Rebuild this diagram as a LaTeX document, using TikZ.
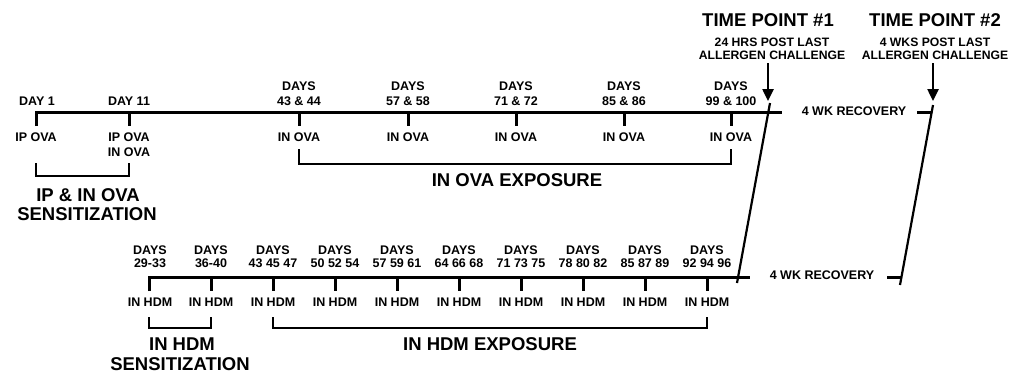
\documentclass[tikz,border=0pt]{standalone}
\usepackage{fontspec}
\setmainfont{Liberation Sans}
\usetikzlibrary{arrows.meta}
\begin{document}
\begin{tikzpicture}[x=1pt,y=-1pt,
  sm/.style={font=\bfseries\fontsize{12.5}{14}\selectfont, anchor=base, inner sep=0pt},
  mid/.style={font=\bfseries\fontsize{12.2}{14}\selectfont, anchor=base, inner sep=0pt},
  big/.style={font=\bfseries\fontsize{18.5}{20}\selectfont, anchor=base, inner sep=0pt},
  axis/.style={line width=3pt},
  tickln/.style={line width=3pt},
  brk/.style={line width=2.6pt},
  slash/.style={line width=2.2pt},
  arr/.style={line width=2.5pt,-{Triangle[width=11pt,length=12pt]}}]
\useasboundingbox (0,0) rectangle (1012,375);

% ---------- top timeline (OVA) ----------
\coordinate (tstart) at (36,126);
\coordinate (tcorner) at (36,112);
\coordinate (tend) at (782,112);
\draw[axis] (tstart) -- (tcorner) -- (tend);
\foreach \x/\n in {129/b,299/c,408/d,516/e,624/f,731/g}{
  \coordinate (tt\n) at (\x,112);
  \coordinate (tb\n) at (\x,126);
  \draw[tickln] (tt\n) -- (tb\n);
}
\node[sm] (d1) at (37,105.5) {DAY 1};
\node[sm] (d11) at (129,105.5) {DAY 11};
\foreach \x/\a/\b/\n in {299/43/44/c,408/57/58/d,516/71/72/e,624/85/86/f,731/99/100/g}{
  \node[sm] (da\n) at (\x,90.5) {DAYS};
  \node[sm] (db\n) at (\x,105.5) {\a\ \&\ \b};
}
\node[sm] (ip1) at (36,141.5) {IP OVA};
\node[sm] (ip2) at (129,141.5) {IP OVA};
\node[sm] (ip3) at (129,156) {IN OVA};
\foreach \x/\n in {299/c,408/d,516/e,624/f,731/g}{
  \node[sm] (io\n) at (\x,141.5) {IN OVA};
}
% brackets
\coordinate (s1a) at (36,163); \coordinate (s1b) at (36,176);
\coordinate (s1c) at (129,176); \coordinate (s1d) at (129,163);
\draw[brk] (s1a) -- (s1b) -- (s1c) -- (s1d);
\coordinate (e1a) at (299,149); \coordinate (e1b) at (299,164);
\coordinate (e1c) at (731,164); \coordinate (e1d) at (731,149);
\draw[brk] (e1a) -- (e1b) -- (e1c) -- (e1d);
\node[big] (sens1a) at (88,201.7) {IP \& IN OVA};
\node[big] (sens1b) at (87,220.7) {SENSITIZATION};
\node[big] (exp1) at (517,186.7) {IN OVA EXPOSURE};

% ---------- bottom timeline (HDM) ----------
\coordinate (bstart) at (149,291);
\coordinate (bcorner) at (149,277);
\coordinate (bend) at (750,277);
\draw[axis] (bstart) -- (bcorner) -- (bend);
\foreach \x/\n in {211/b,273/c,335/d,397/e,459/f,521/g,583/h,645/i,707/j}{
  \coordinate (bt\n) at (\x,277);
  \coordinate (bb\n) at (\x,291);
  \draw[tickln] (bt\n) -- (bb\n);
}
\foreach \x/\l/\n in {150/29-33/a,211/36-40/b,273/43 45 47/c,335/50 52 54/d,397/57 59 61/e,459/64 66 68/f,521/71 73 75/g,583/78 80 82/h,645/85 87 89/i,707/92 94 96/j}{
  \node[sm] (ha\n) at (\x,254.5) {DAYS};
  \node[sm] (hb\n) at (\x,267.5) {\l};
  \node[sm] (hi\n) at (\x,306.5) {IN HDM};
}
\coordinate (s2a) at (149,317); \coordinate (s2b) at (149,328);
\coordinate (s2c) at (211,328); \coordinate (s2d) at (211,317);
\draw[brk] (s2a) -- (s2b) -- (s2c) -- (s2d);
\coordinate (e2a) at (273,317); \coordinate (e2b) at (273,328);
\coordinate (e2c) at (707,328); \coordinate (e2d) at (707,317);
\draw[brk] (e2a) -- (e2b) -- (e2c) -- (e2d);
\node[big] (sens2a) at (182,350.7) {IN HDM};
\node[big] (sens2b) at (180,370.3) {SENSITIZATION};
\node[big] (exp2) at (490,350.7) {IN HDM EXPOSURE};

% ---------- recovery ----------
\coordinate (sl1t) at (770,103); \coordinate (sl1b) at (737,283);
\draw[slash] (sl1t) -- (sl1b);
\coordinate (sl2t) at (933,105); \coordinate (sl2b) at (900,285);
\draw[slash] (sl2t) -- (sl2b);
\node[sm] (rec1) at (854,115.5) {4 WK RECOVERY};
\coordinate (r1a) at (917,112); \coordinate (r1b) at (931,112);
\draw[axis] (r1a) -- (r1b);
\node[sm] (rec2) at (822,279.5) {4 WK RECOVERY};
\coordinate (r2a) at (887,277); \coordinate (r2b) at (901,277);
\draw[axis] (r2a) -- (r2b);

% ---------- time points ----------
\node[big] (tp1) at (768,26.7) {TIME POINT \#1};
\node[mid] (tp1a) at (772,46.3) {24 HRS POST LAST};
\node[mid] (tp1b) at (772,59.3) {ALLERGEN CHALLENGE};
\node[big] (tp2) at (935,26.7) {TIME POINT \#2};
\node[mid] (tp2a) at (935,46.3) {4 WKS POST LAST};
\node[mid] (tp2b) at (935,59.3) {ALLERGEN CHALLENGE};
\coordinate (a1s) at (768,63); \coordinate (a1e) at (768,101);
\draw[arr] (a1s) -- (a1e);
\coordinate (a2s) at (933,63); \coordinate (a2e) at (933,101);
\draw[arr] (a2s) -- (a2e);
\end{tikzpicture}
\end{document}
